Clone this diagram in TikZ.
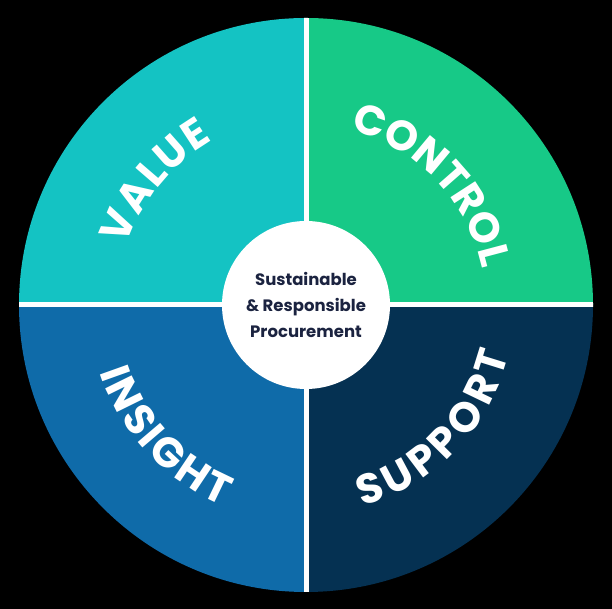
\documentclass[tikz,border=0pt]{standalone}
\usepackage{fontspec}
\newfontfamily\lblfont{Poppins}
\usetikzlibrary{decorations.text}
\definecolor{cValue}{HTML}{14C3C3}
\definecolor{cControl}{HTML}{17C987}
\definecolor{cInsight}{HTML}{0F6BA9}
\definecolor{cSupport}{HTML}{053152}
\definecolor{cHubText}{HTML}{1B2340}
\newcommand{\quadlbl}{\lblfont\bfseries\fontsize{42}{42}\selectfont\color{white}}
\tikzset{
  arclabel/.style={decorate, decoration={text along path, text align={fit to path}, text={|\quadlbl|#1}}},
  divider/.style={white, line width=5pt},
  hub/.style={circle, fill=white, minimum size=168pt, inner sep=0pt, align=center,
    text=cHubText, font=\lblfont\bfseries\fontsize{16.5}{26}\selectfont}
}
\begin{document}
\begin{tikzpicture}[x=1pt,y=1pt]
\fill[black] (0,0) rectangle (612,609);
\useasboundingbox (0,0) rectangle (612,609);
\coordinate (O) at (306,304);
% quadrants
\fill[cValue]   (O) -- ++(180:287) arc[start angle=180,end angle=90,radius=287] -- cycle;
\fill[cControl] (O) -- ++(90:287) arc[start angle=90,end angle=0,radius=287] -- cycle;
\fill[cSupport] (O) -- ++(0:287) arc[start angle=0,end angle=-90,radius=287] -- cycle;
\fill[cInsight] (O) -- ++(270:287) arc[start angle=270,end angle=180,radius=287] -- cycle;
% dividers
\begin{scope}
\clip (O) circle[radius=287];
\draw[divider] ([xshift=-290pt]O) -- ([xshift=290pt]O);
\draw[divider] ([yshift=-290pt]O) -- ([yshift=290pt]O);
\end{scope}
% labels along arcs (baseline arcs)
\path[arclabel=VALUE]   ([shift={(161.7:189)}]O) arc[start angle=161.7,end angle=119.7,radius=189];
\path[arclabel=CONTROL] ([shift={(75.9:180)}]O) arc[start angle=75.9,end angle=11.8,radius=180];
\path[arclabel=INSIGHT] ([shift={(198.0:217)}]O) arc[start angle=198.0,end angle=247.5,radius=217];
\path[arclabel=SUPPORT] ([shift={(-74.3:209)}]O) arc[start angle=-74.3,end angle=-13.9,radius=209];
% hub
\node[hub] (center) at (O) {Sustainable\\\& Responsible\\Procurement};
\end{tikzpicture}
\end{document}
